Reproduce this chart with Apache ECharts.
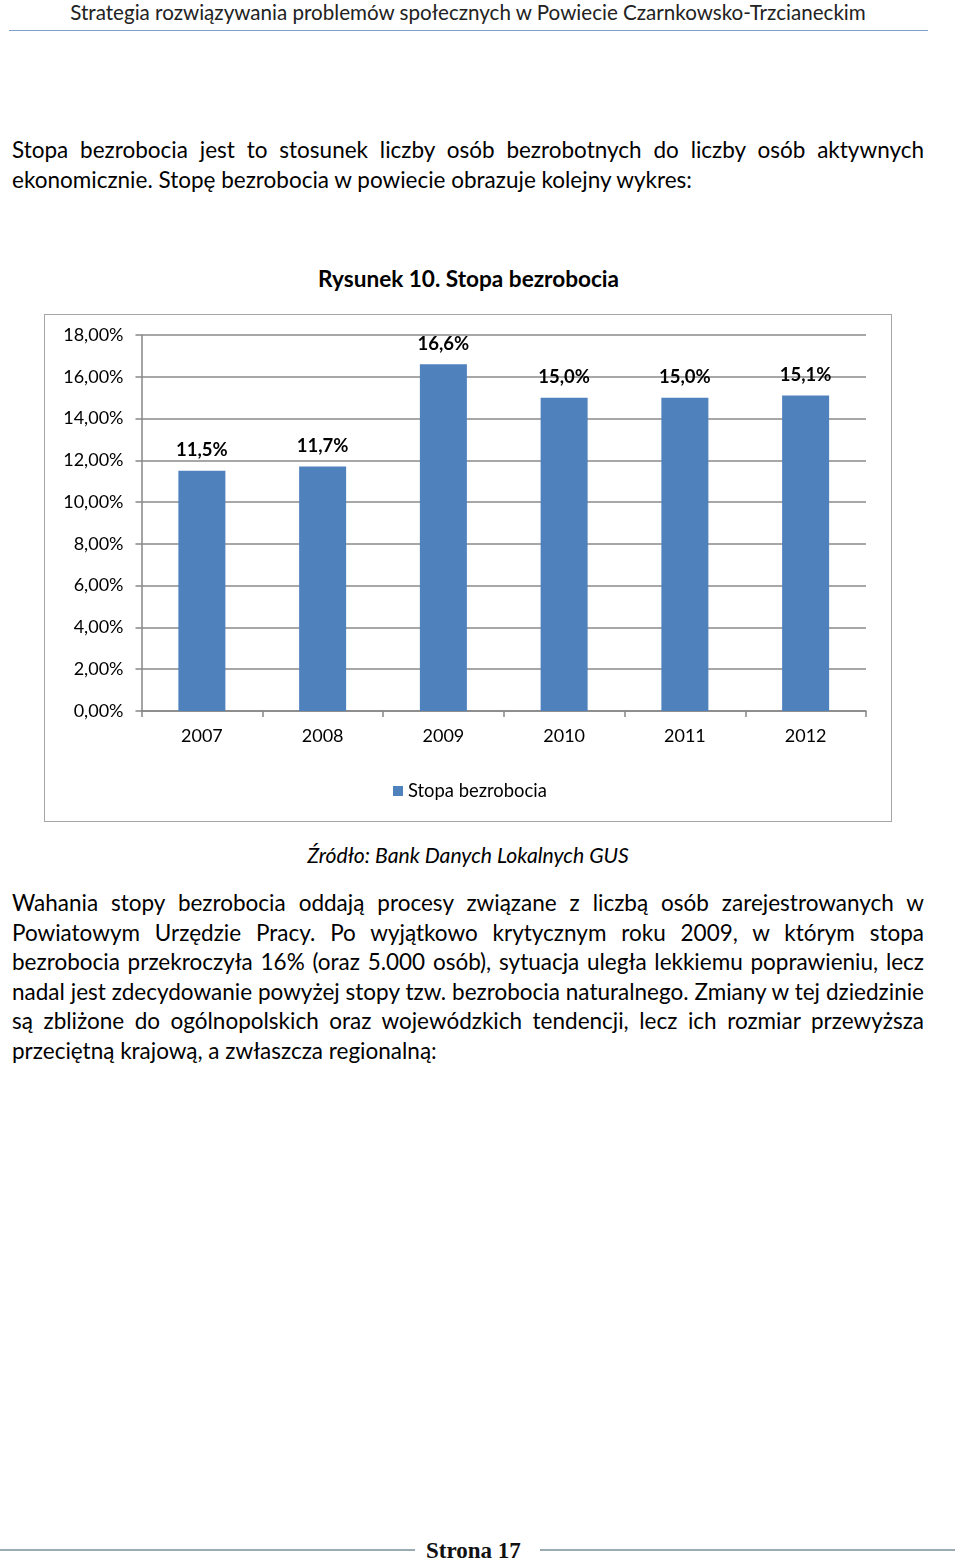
<!DOCTYPE html>
<html><head><meta charset="utf-8">
<script src="https://cdn.jsdelivr.net/npm/echarts@6/dist/echarts.min.js"></script>
<style>
html,body{margin:0;padding:0;background:#fff;}
body{width:960px;height:1562px;position:relative;overflow:hidden;font-family:Lato,"Liberation Sans",sans-serif;color:#000;}
.abs{position:absolute;white-space:nowrap;}
.ln{position:absolute;left:12px;width:912px;white-space:nowrap;font-size:22.5px;line-height:30px;}
.j{text-align:justify;text-align-last:justify;}
</style></head>
<body>
<div class="abs" style="left:0;width:936px;top:0;text-align:center;font-size:20.6px;line-height:24px;color:#222;">Strategia rozwiązywania problemów społecznych w Powiecie Czarnkowsko-Trzcianeckim</div>
<div class="abs" style="left:9px;width:919px;top:30px;height:0;border-top:1.5px solid #7f9fc6;"></div>

<div class="ln j" style="top:135px;">Stopa bezrobocia jest to stosunek liczby osób bezrobotnych do liczby osób aktywnych</div>
<div class="ln" style="top:165px;">ekonomicznie. Stopę bezrobocia w powiecie obrazuje kolejny wykres:</div>

<div class="abs" style="left:0;width:937px;top:264px;text-align:center;font-size:22.6px;line-height:30px;font-weight:bold;">Rysunek 10. Stopa bezrobocia</div>

<div id="chart" style="position:absolute;left:44px;top:314px;width:846px;height:506px;border:1.5px solid #a6a6a6;"></div>

<div class="abs" style="left:0;width:936px;top:840px;text-align:center;font-size:21.2px;line-height:30px;font-style:italic;">Źródło: Bank Danych Lokalnych GUS</div>

<div class="ln j" style="top:888px;">Wahania stopy bezrobocia oddają procesy związane z liczbą osób zarejestrowanych w</div>
<div class="ln j" style="top:918px;">Powiatowym Urzędzie Pracy. Po wyjątkowo krytycznym roku 2009, w którym stopa</div>
<div class="ln j" style="top:947px;">bezrobocia przekroczyła 16% (oraz 5.000 osób), sytuacja uległa lekkiemu poprawieniu, lecz</div>
<div class="ln j" style="top:977px;">nadal jest zdecydowanie powyżej stopy tzw. bezrobocia naturalnego. Zmiany w tej dziedzinie</div>
<div class="ln j" style="top:1006px;">są zbliżone do ogólnopolskich oraz wojewódzkich tendencji, lecz ich rozmiar przewyższa</div>
<div class="ln" style="top:1036px;">przeciętną krajową, a zwłaszcza regionalną:</div>

<div class="abs" style="left:0;width:415px;top:1549px;height:0;border-top:2px solid #9aabb4;"></div>
<div class="abs" style="left:540px;width:415px;top:1549px;height:0;border-top:2px solid #9aabb4;"></div>
<div class="abs" style="left:426px;top:1536px;font-family:'Liberation Serif',serif;font-weight:bold;font-size:23px;line-height:30px;color:#111;">Strona 17</div>

<script>
const categories = ['2007','2008','2009','2010','2011','2012'];
const values = [11.5, 11.7, 16.6, 15.0, 15.0, 15.1];
const seriesName = 'Stopa bezrobocia';
const yMin = 0, yMax = 18, yStep = 2;

const chart = echarts.init(document.getElementById('chart'), null, {renderer:'canvas'});
const font = 'Lato, "Liberation Sans", sans-serif';
chart.setOption({
  animation:false,
  textStyle:{fontFamily:font},
  grid:{left:96.5, right:25, top:20, bottom:110, containLabel:false},
  legend:{
    show:true, data:[seriesName], bottom:16, left:343,
    icon:'rect', itemWidth:10, itemHeight:10, itemGap:6,
    textStyle:{fontSize:18.4, color:'#000', fontFamily:font}
  },
  xAxis:{
    type:'category', data:categories, boundaryGap:true,
    axisLine:{show:true, lineStyle:{color:'#868686', width:1.5}},
    axisTick:{show:true, alignWithLabel:false, length:6, lineStyle:{color:'#868686', width:1.5}},
    axisLabel:{fontSize:18, color:'#000', margin:16, fontFamily:font}
  },
  yAxis:{
    type:'value', min:yMin, max:yMax, interval:yStep,
    axisLine:{show:true, lineStyle:{color:'#868686', width:1.5}},
    axisTick:{show:true, length:6, lineStyle:{color:'#868686', width:1.5}},
    splitLine:{show:true, lineStyle:{color:'#8a8a8a', width:1.5}},
    axisLabel:{fontSize:18, color:'#000', margin:18, fontFamily:font,
      formatter:v=>v.toFixed(2).replace('.',',')+'%'}
  },
  series:[{
    name:seriesName, type:'bar', data:values, barWidth:47,
    itemStyle:{color:'#4f81bd'},
    label:{show:true, position:'top', distance:11, fontSize:18.5, fontWeight:'bold', color:'#000',
      fontFamily:font, formatter:p=>p.value.toFixed(1).replace('.',',')+'%'}
  }]
});
</script>
</body></html>
